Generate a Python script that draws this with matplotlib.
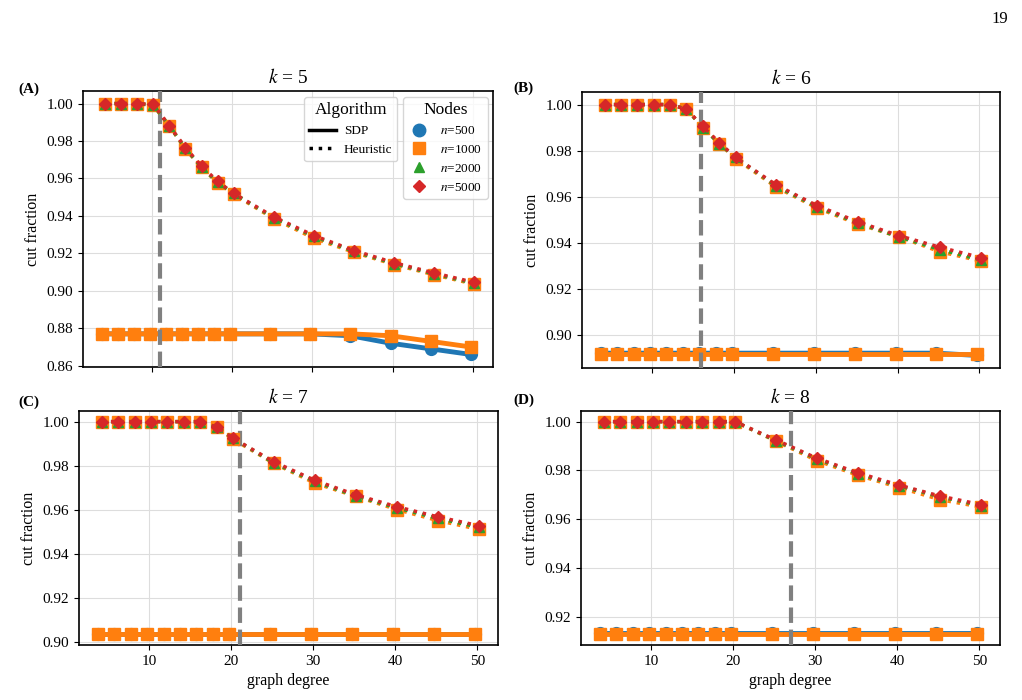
import numpy as np
import matplotlib
matplotlib.use("Agg")
import matplotlib.pyplot as plt
from matplotlib.lines import Line2D

plt.rcParams['font.family'] = ['Liberation Serif', 'DejaVu Serif']
plt.rcParams['mathtext.fontset'] = 'stix'

# graph degrees
degree = [4, 6, 8, 10, 12, 14, 16, 18, 20, 25, 30, 35, 40, 45, 50]

ks = [5, 6, 7, 8]
panel_labels = ["(A)", "(B)", "(C)", "(D)"]
threshold = [11, 16, 21, 27]

# SDP results (n=500, n=1000)
sdp_500 = {
    5: [0.877, 0.877, 0.877, 0.877, 0.877, 0.877, 0.877, 0.877, 0.877, 0.877, 0.877, 0.876, 0.872, 0.869, 0.866],
    6: [0.892, 0.892, 0.892, 0.892, 0.892, 0.892, 0.892, 0.892, 0.892, 0.892, 0.892, 0.892, 0.892, 0.892, 0.891],
    7: [0.9035] * 15,
    8: [0.9132] * 15,
}
sdp_1000 = {
    5: [0.877, 0.877, 0.877, 0.877, 0.877, 0.877, 0.877, 0.877, 0.877, 0.877, 0.877, 0.877, 0.876, 0.873, 0.870],
    6: [0.8918] * 15,
    7: [0.9033] * 15,
    8: [0.9128] * 15,
}

# heuristic results (n=1000, n=2000, n=5000)
heur_1000 = {
    5: [1.0, 1.0, 1.0, 0.999, 0.988, 0.9755, 0.966, 0.9575, 0.9515, 0.9385, 0.928, 0.9205, 0.914, 0.9085, 0.9035],
    6: [1.0, 1.0, 1.0, 1.0, 1.0, 0.998, 0.990, 0.983, 0.9765, 0.964, 0.955, 0.948, 0.9425, 0.936, 0.932],
    7: [1.0, 1.0, 1.0, 1.0, 1.0, 1.0, 1.0, 0.9975, 0.992, 0.981, 0.972, 0.966, 0.960, 0.955, 0.951],
    8: [1.0, 1.0, 1.0, 1.0, 1.0, 1.0, 1.0, 1.0, 1.0, 0.992, 0.984, 0.978, 0.973, 0.968, 0.965],
}
heur_2000 = {
    5: [1.0, 1.0, 1.0, 0.999, 0.988, 0.976, 0.966, 0.958, 0.952, 0.939, 0.929, 0.921, 0.9145, 0.909, 0.904],
    6: [1.0, 1.0, 1.0, 1.0, 1.0, 0.998, 0.990, 0.983, 0.977, 0.9645, 0.9555, 0.9485, 0.9425, 0.937, 0.9325],
    7: [1.0, 1.0, 1.0, 1.0, 1.0, 1.0, 1.0, 0.9975, 0.9925, 0.9812, 0.9728, 0.9662, 0.9608, 0.956, 0.952],
    8: [1.0, 1.0, 1.0, 1.0, 1.0, 1.0, 1.0, 1.0, 1.0, 0.9922, 0.9847, 0.9786, 0.9737, 0.9692, 0.9656],
}
heur_5000 = {
    5: [1.0, 1.0, 1.0, 0.9995, 0.988, 0.9765, 0.9665, 0.9585, 0.952, 0.9395, 0.9295, 0.9215, 0.915, 0.9095, 0.9045],
    6: [1.0, 1.0, 1.0, 1.0, 1.0, 0.998, 0.9905, 0.9835, 0.977, 0.965, 0.956, 0.949, 0.943, 0.938, 0.9335],
    7: [1.0, 1.0, 1.0, 1.0, 1.0, 1.0, 1.0, 0.9975, 0.9925, 0.9817, 0.9733, 0.9667, 0.9613, 0.9567, 0.9527],
    8: [1.0, 1.0, 1.0, 1.0, 1.0, 1.0, 1.0, 1.0, 1.0, 0.9925, 0.985, 0.979, 0.974, 0.9695, 0.966],
}

blue, orange, green, red = "#1f77b4", "#ff7f0e", "#2ca02c", "#d62728"

fig = plt.figure(figsize=(10.22, 7.0), dpi=100)
W, H = 1022, 700

# axes boxes in pixels: left, top, right, bottom
boxes = [(83, 91, 493, 367), (582, 92, 1000, 368), (79, 411, 498, 645), (581, 411, 1000, 645)]
label_pos = [(18, 89), (513, 88), (18, 402), (513, 400)]

x = np.array(degree, dtype=float)
xs = x - 0.25
xh = x + 0.2

for i, k in enumerate(ks):
    l, t, r, b = boxes[i]
    ax = fig.add_axes([l / W, 1 - b / H, (r - l) / W, (b - t) / H])

    ax.plot(xs, sdp_500[k], '-', color=blue, lw=3.5, marker='o', ms=8.5, zorder=3)
    ax.plot(xs, sdp_1000[k], '-', color=orange, lw=3.5, marker='s', ms=8, zorder=3)
    ax.axvline(threshold[i], color='gray', ls='--', lw=3, zorder=3.5)
    ax.plot(xh, heur_1000[k], ':', color=orange, lw=2.5, marker='s', ms=8, zorder=4)
    ax.plot(xh, heur_2000[k], ':', color=green, lw=2.5, marker='^', ms=7, zorder=4)
    ax.plot(xh, heur_5000[k], ':', color=red, lw=2.5, marker='D', ms=6.5, zorder=5)

    ax.grid(True, color='#dddddd', lw=0.8)
    ax.set_axisbelow(True)
    ax.set_title(f"$k$ = {k}", fontsize=14, pad=6)
    ax.set_ylabel("cut fraction", fontsize=11.5)
    ax.set_xticks([10, 20, 30, 40, 50])
    ax.tick_params(labelsize=11)
    if i < 2:
        ax.tick_params(labelbottom=False)
    else:
        ax.set_xlabel("graph degree", fontsize=11.5)
    for s in ax.spines.values():
        s.set_linewidth(1.2)

    fig.text(label_pos[i][0] / W, 1 - label_pos[i][1] / H, panel_labels[i],
             fontsize=11, fontweight='bold', ha='left', va='center')

    if i == 0:
        alg_handles = [Line2D([], [], color='black', lw=2.5, ls='-'),
                       Line2D([], [], color='black', lw=2.5, ls=':')]
        leg1 = ax.legend(alg_handles, ["SDP", "Heuristic"], title="Algorithm",
                         loc='upper right', bbox_to_anchor=(0.767, 0.978),
                         borderaxespad=0, fontsize=9.5, title_fontsize=12.5,
                         handlelength=2.0, handletextpad=0.6, edgecolor='#cccccc')
        ax.add_artist(leg1)
        node_handles = [Line2D([], [], color=blue, marker='o', ls='', ms=9),
                        Line2D([], [], color=orange, marker='s', ls='', ms=8),
                        Line2D([], [], color=green, marker='^', ls='', ms=7),
                        Line2D([], [], color=red, marker='D', ls='', ms=6.5)]
        ax.legend(node_handles, ["$n$=500", "$n$=1000", "$n$=2000", "$n$=5000"],
                  title="Nodes", loc='upper right', bbox_to_anchor=(0.987, 0.978),
                  borderaxespad=0, fontsize=9.5, title_fontsize=12.5,
                  handlelength=1.6, handletextpad=0.8, edgecolor='#cccccc')

fig.text(1000 / W, 1 - 19 / H, "19", fontsize=12, ha='center', va='center')

fig.savefig("out.png", dpi=100)
